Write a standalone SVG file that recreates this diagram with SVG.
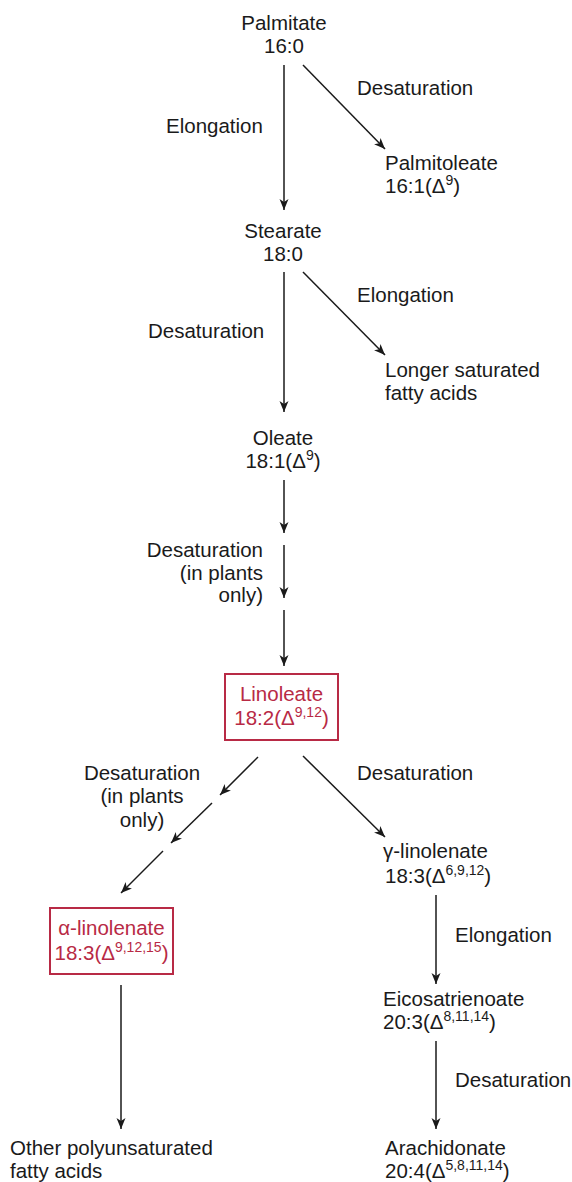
<svg xmlns="http://www.w3.org/2000/svg" width="572" height="1182" viewBox="0 0 572 1182">
<style>
text{font-family:"Liberation Sans",Arial,sans-serif;font-size:20.5px;fill:#1a1a1a}
.m{text-anchor:middle}
.e{text-anchor:end}
.r{fill:#b82a45}
.sup{font-size:14px}
.c line{stroke:#1a1a1a;stroke-width:1.5;fill:none;marker-end:url(#ah)}
.box{fill:#fff;stroke:#b82a45;stroke-width:2}
</style>
<defs>
<marker id="ah" markerUnits="userSpaceOnUse" markerWidth="12" markerHeight="10" refX="11" refY="4.5" orient="auto" viewBox="0 0 12 9">
<path d="M0,0 L11,4.5 L0,9 L3,4.5 z" fill="#1a1a1a"/>
</marker>
</defs>
<rect width="572" height="1182" fill="#fff"/>
<g class="c" id="connectors">
<line x1="284" y1="65" x2="284" y2="210"/>
<line x1="303" y1="65" x2="385" y2="149"/>
<line x1="284" y1="272" x2="284" y2="412"/>
<line x1="303" y1="272" x2="385" y2="355"/>
<line x1="284" y1="480" x2="284" y2="533"/>
<line x1="284" y1="545" x2="284" y2="598"/>
<line x1="284" y1="610" x2="284" y2="666"/>
<line x1="258" y1="757" x2="220" y2="795"/>
<line x1="212" y1="803" x2="171" y2="843"/>
<line x1="163" y1="851" x2="121" y2="893"/>
<line x1="303" y1="756" x2="385" y2="837"/>
<line x1="121" y1="985" x2="121" y2="1129"/>
<line x1="436" y1="895" x2="436" y2="984"/>
<line x1="436" y1="1041" x2="436" y2="1129"/>
</g>
<g id="palmitate"><text class="m" x="284" y="30">Palmitate</text><text class="m" x="284" y="53">16:0</text></g>
<g id="lbl-desat1"><text x="357" y="95">Desaturation</text></g>
<g id="lbl-elong1"><text x="166" y="133">Elongation</text></g>
<g id="palmitoleate"><text x="385" y="170">Palmitoleate</text><text x="385" y="193">16:1(Δ<tspan class="sup" dy="-8">9</tspan><tspan dy="8">)</tspan></text></g>
<g id="stearate"><text class="m" x="283" y="238">Stearate</text><text class="m" x="283" y="261">18:0</text></g>
<g id="lbl-elong2"><text x="357" y="302">Elongation</text></g>
<g id="lbl-desat2"><text x="148" y="338">Desaturation</text></g>
<g id="longer"><text x="385" y="377">Longer saturated</text><text x="385" y="400">fatty acids</text></g>
<g id="oleate"><text class="m" x="283" y="445">Oleate</text><text class="m" x="283" y="468">18:1(Δ<tspan class="sup" dy="-8">9</tspan><tspan dy="8">)</tspan></text></g>
<g id="lbl-desat3"><text class="e" x="263" y="557">Desaturation</text><text class="e" x="263" y="580">(in plants</text><text class="e" x="263" y="602">only)</text></g>
<g id="linoleate"><rect class="box" x="225" y="674" width="113" height="66"/><text class="m r" x="281.5" y="701">Linoleate</text><text class="m r" x="281.5" y="725">18:2(Δ<tspan class="sup" dy="-8">9,12</tspan><tspan dy="8">)</tspan></text></g>
<g id="lbl-desat4"><text class="m" x="142" y="780">Desaturation</text><text class="m" x="142" y="803">(in plants</text><text class="m" x="142" y="827">only)</text></g>
<g id="lbl-desat5"><text x="357" y="780">Desaturation</text></g>
<g id="gamma"><text x="383" y="858">γ-linolenate</text><text x="385" y="883">18:3(Δ<tspan class="sup" dy="-8">6,9,12</tspan><tspan dy="8">)</tspan></text></g>
<g id="alpha"><rect class="box" x="50" y="908" width="123" height="66"/><text class="m r" x="111.5" y="935">α-linolenate</text><text class="m r" x="111.5" y="960">18:3(Δ<tspan class="sup" dy="-8">9,12,15</tspan><tspan dy="8">)</tspan></text></g>
<g id="lbl-elong3"><text x="455" y="942">Elongation</text></g>
<g id="eicosa"><text x="383" y="1006">Eicosatrienoate</text><text x="383" y="1029">20:3(Δ<tspan class="sup" dy="-8">8,11,14</tspan><tspan dy="8">)</tspan></text></g>
<g id="lbl-desat6"><text x="455" y="1087">Desaturation</text></g>
<g id="other"><text x="10" y="1155">Other polyunsaturated</text><text x="10" y="1178">fatty acids</text></g>
<g id="arachidonate"><text x="385" y="1155">Arachidonate</text><text x="385" y="1178">20:4(Δ<tspan class="sup" dy="-8">5,8,11,14</tspan><tspan dy="8">)</tspan></text></g>
</svg>
